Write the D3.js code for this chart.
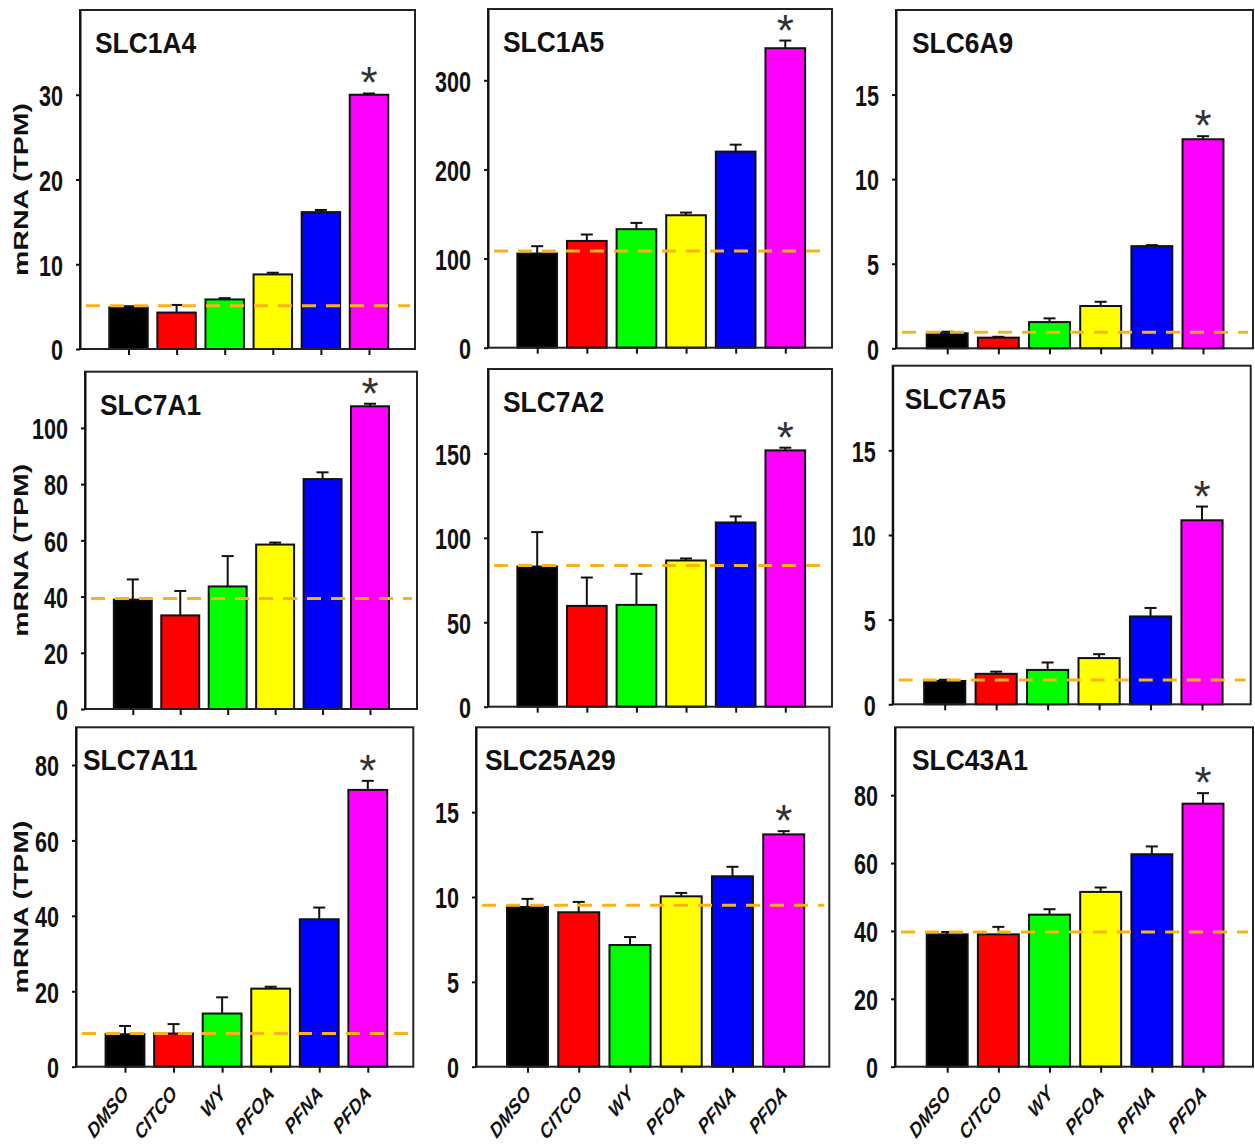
<!DOCTYPE html>
<html>
<head>
<meta charset="utf-8">
<script src="https://cdn.jsdelivr.net/npm/d3@7"></script>
<style>
  html, body { margin: 0; padding: 0; background: #fff; }
  svg { display: block; }
  text { font-family: "Liberation Sans", Arial, sans-serif; }
</style>
</head>
<body>
<script>
// ---------------- DATA ----------------
const categories = ["DMSO", "CITCO", "WY", "PFOA", "PFNA", "PFDA"];
const genes = ["SLC1A4", "SLC1A5", "SLC6A9", "SLC7A1", "SLC7A2", "SLC7A5", "SLC7A11", "SLC25A29", "SLC43A1"];

const meanSLC1A4   = [4.9, 4.3, 5.85, 8.8, 16.15, 30.0];
const meanSLC1A5   = [105.7, 119.8, 133, 148.6, 220, 336];
const meanSLC6A9   = [0.89, 0.63, 1.55, 2.5, 6.04, 12.36];
const meanSLC7A1   = [38.9, 33.3, 43.6, 58.5, 81.8, 107.7];
const meanSLC7A2   = [83, 59.7, 60.3, 86.6, 109.1, 151.8];
const meanSLC7A5   = [1.38, 1.8, 2.03, 2.73, 5.19, 10.87];
const meanSLC7A11  = [8.6, 8.8, 14.1, 20.7, 39.1, 73.4];
const meanSLC25A29 = [9.41, 9.1, 7.17, 10.04, 11.22, 13.69];
const meanSLC43A1  = [39.0, 39.0, 44.8, 51.5, 62.6, 77.5];

const errSLC1A4   = [0.15, 0.9, 0.15, 0.2, 0.25, 0.15];
const errSLC1A5   = [8.2, 7.2, 7, 3, 7.8, 8.6];
const errSLC6A9   = [0.09, 0.05, 0.22, 0.25, 0.06, 0.18];
const errSLC7A1   = [7.2, 8.7, 10.8, 0.7, 2.4, 0.9];
const errSLC7A2   = [20.4, 16.8, 18.4, 1.2, 3.6, 1.6];
const errSLC7A5   = [0.07, 0.13, 0.44, 0.23, 0.5, 0.81];
const errSLC7A11  = [2.2, 2.5, 4.3, 0.5, 3.1, 2.4];
const errSLC25A29 = [0.48, 0.61, 0.47, 0.2, 0.56, 0.19];
const errSLC43A1  = [0.7, 2.2, 1.6, 1.3, 2.3, 3.1];

const means = [meanSLC1A4, meanSLC1A5, meanSLC6A9, meanSLC7A1, meanSLC7A2, meanSLC7A5, meanSLC7A11, meanSLC25A29, meanSLC43A1];
const errors = [errSLC1A4, errSLC1A5, errSLC6A9, errSLC7A1, errSLC7A2, errSLC7A5, errSLC7A11, errSLC25A29, errSLC43A1];

// DMSO reference level (dashed line)
const controlLevel = [5.1, 108.6, 0.95, 39.3, 83.6, 1.44, 8.8, 9.51, 39.7];
// y-axis domain maxima and tick labels
const yMax = [40, 380, 20, 120, 200, 20, 90, 20, 100];
const yTicks = [
  [0, 10, 20, 30],
  [0, 100, 200, 300],
  [0, 5, 10, 15],
  [0, 20, 40, 60, 80, 100],
  [0, 50, 100, 150],
  [0, 5, 10, 15],
  [0, 20, 40, 60, 80],
  [0, 5, 10, 15],
  [0, 20, 40, 60, 80]
];
// significance marker on these categories
const significant = ["PFDA"];
const yLabel = "mRNA (TPM)";

// ---------------- LAYOUT / STYLE ----------------
const barColors = ["#000000", "#ff0000", "#00ff00", "#ffff00", "#0000ff", "#ff00ff"];
const layout = [
  { box: [80, 10, 415, 349],       centers: [128.5, 369],   tdx: 15 },
  { box: [488, 9, 832, 347.7],     centers: [537.2, 785.3], tdx: 15 },
  { box: [896, 10, 1253, 348.3],   centers: [947.2, 1203],  tdx: 16 },
  { box: [85, 371.7, 417, 709],    centers: [132.8, 370],   tdx: 15 },
  { box: [488, 369, 832, 706.7],   centers: [537.2, 785.3], tdx: 15 },
  { box: [892.7, 365.7, 1250.7, 704.3], centers: [944.7, 1202], tdx: 12 },
  { box: [76, 727.3, 413.3, 1066.7], centers: [125, 367.8],  tdx: 7 },
  { box: [476, 727.3, 829.3, 1066.7], centers: [527.5, 783.7], tdx: 9 },
  { box: [895, 727.3, 1253, 1066.7], centers: [947.2, 1203], tdx: 17 }
];
const SX_TICK = 0.72, SX_TITLE = 0.88, SX_XLAB = 0.8, SX_YLAB = 0.72;

const svg = d3.select("body").append("svg")
  .attr("width", 1255).attr("height", 1146);

genes.forEach((gene, i) => {
  const [L, T, R, B] = layout[i].box;
  const col = i % 3, row = Math.floor(i / 3);
  const y = d3.scaleLinear().domain([0, yMax[i]]).range([B, T]);
  const x = d3.scalePoint().domain(categories).range(layout[i].centers);
  const bw = x.step() * 0.8;
  const g = svg.append("g");
  const rows = categories.map((c, k) => ({ c, v: means[i][k], e: errors[i][k], color: barColors[k] }));

  // bars
  g.selectAll("rect.bar").data(rows).enter().append("rect")
    .attr("class", "bar")
    .attr("x", d => x(d.c) - bw / 2)
    .attr("y", d => y(d.v))
    .attr("width", bw)
    .attr("height", d => y(0) - y(d.v))
    .attr("fill", d => d.color)
    .attr("stroke", "#111")
    .attr("stroke-width", 2);

  // error bars (upper only)
  const eb = g.selectAll("g.err").data(rows).enter().append("g").attr("class", "err");
  eb.append("line")
    .attr("x1", d => x(d.c)).attr("x2", d => x(d.c))
    .attr("y1", d => y(d.v)).attr("y2", d => y(d.v + d.e))
    .attr("stroke", "#111").attr("stroke-width", 2);
  eb.append("line")
    .attr("x1", d => x(d.c) - 6).attr("x2", d => x(d.c) + 6)
    .attr("y1", d => y(d.v + d.e)).attr("y2", d => y(d.v + d.e))
    .attr("stroke", "#111").attr("stroke-width", 2);

  // dashed control line
  g.append("line")
    .attr("x1", L + 6).attr("x2", R - 5)
    .attr("y1", y(controlLevel[i])).attr("y2", y(controlLevel[i]))
    .attr("stroke", "#f9b21a").attr("stroke-width", 3)
    .attr("stroke-dasharray", "14,10");

  // frame
  g.append("rect")
    .attr("x", L).attr("y", T).attr("width", R - L).attr("height", B - T)
    .attr("fill", "none").attr("stroke", "#222").attr("stroke-width", 2);

  // y axis
  const ya = g.append("g").attr("transform", `translate(${L},0)`)
    .call(d3.axisLeft(y).tickValues(yTicks[i]).tickSize(4).tickSizeOuter(0).tickFormat(d3.format("d")));
  ya.select(".domain").attr("stroke", "#111").attr("stroke-width", 2);
  ya.selectAll(".tick line").attr("stroke", "#111").attr("stroke-width", 2);
  ya.selectAll(".tick text")
    .attr("x", null).attr("dy", null)
    .attr("transform", "translate(-17,10.8) scale(" + SX_TICK + ",1)")
    .attr("fill", "#111")
    .style("font-size", "30px").style("font-weight", "bold")
    .style("font-family", "'Liberation Sans', Arial, sans-serif");

  // x axis
  const xa = g.append("g").attr("transform", `translate(0,${B})`)
    .call(d3.axisBottom(x).tickSize(6).tickSizeOuter(0));
  xa.select(".domain").remove();
  xa.selectAll(".tick line").attr("stroke", "#111").attr("stroke-width", 2);
  if (row === 2) {
    xa.selectAll(".tick text")
      .attr("x", null).attr("y", null).attr("dy", null)
      .attr("text-anchor", "end")
      .attr("transform", "translate(4,28) scale(" + SX_XLAB + ",1) rotate(-45)")
      .attr("fill", "#111")
      .style("font-size", "21px").style("font-weight", "bold").style("font-style", "italic")
      .style("font-family", "'Liberation Sans', Arial, sans-serif");
  } else {
    xa.selectAll(".tick text").remove();
  }

  // title
  g.append("text")
    .attr("transform", `translate(${L + layout[i].tdx},${T + 43}) scale(${SX_TITLE},1)`)
    .style("font-size", "30px").style("font-weight", "bold")
    .attr("fill", "#111")
    .text(gene);

  // significance asterisk
  rows.filter(d => significant.includes(d.c)).forEach(d => {
    g.append("text")
      .attr("x", x(d.c)).attr("y", y(d.v + d.e) + 5)
      .attr("text-anchor", "middle")
      .style("font-size", "44px")
      .attr("fill", "#333")
      .text("*");
  });

  // y-axis label
  if (col === 0) {
    g.append("text")
      .attr("transform", `translate(28,${(T + B) / 2 + 10}) scale(${SX_YLAB},1) rotate(-90)`)
      .attr("text-anchor", "middle")
      .style("font-size", "28.5px").style("font-weight", "bold")
      .attr("fill", "#111")
      .text(yLabel);
  }
});
</script>
</body>
</html>
